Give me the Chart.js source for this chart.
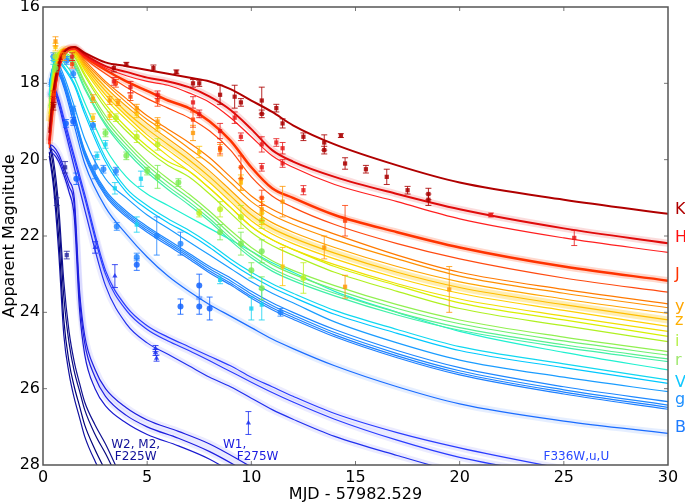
<!DOCTYPE html>
<html lang="en">
<head>
<meta charset="UTF-8">
<title>Kilonova light curves</title>
<script src="https://cdn.jsdelivr.net/npm/chart.js"></script>
<style>
  body { margin: 0; background: #fff; }
  #wrap { width: 685px; height: 504px; }
</style>
</head>
<body>
<div id="wrap"><canvas id="lc" width="685" height="504"></canvas></div>
<script>
// model grid (days since merger)
const days   = [0.3, 0.5, 0.75, 1, 1.5, 2, 3, 4, 5, 6, 7, 8, 9, 10, 11, 12, 14, 17, 20, 25, 30];
const daysUV = [0.3, 0.5, 0.75, 1, 1.25, 1.5, 1.75, 2, 2.5, 3, 4, 5, 6.5, 8, 10];

// model magnitudes, one array per filter curve
const magK  = [19.3, 18.2, 17.5, 17.2, 17.05, 17.2, 17.45, 17.55, 17.65, 17.75, 17.85, 17.95, 18.15, 18.45, 18.75, 19.1, 19.6, 20.15, 20.6, 21.05, 21.42];
const magH1 = [19.5, 18.4, 17.6, 17.2, 17.05, 17.25, 17.55, 17.7, 17.85, 17.95, 18.1, 18.35, 18.7, 19.2, 19.75, 20.05, 20.45, 20.9, 21.3, 21.8, 22.19];
const magH2 = [19.6, 18.5, 17.7, 17.3, 17.1, 17.3, 17.6, 17.8, 17.95, 18.05, 18.25, 18.5, 18.9, 19.4, 19.9, 20.2, 20.65, 21.1, 21.55, 22.05, 22.43];
const magJ1 = [19.6, 18.5, 17.5, 17.15, 17.08, 17.3, 17.65, 17.95, 18.2, 18.45, 18.65, 19.0, 19.5, 20.2, 20.75, 21.0, 21.45, 21.9, 22.3, 22.8, 23.17];
const magJ2 = [19.7, 18.6, 17.6, 17.2, 17.1, 17.35, 17.75, 18.1, 18.4, 18.65, 18.9, 19.25, 19.75, 20.45, 20.95, 21.25, 21.7, 22.2, 22.6, 23.1, 23.47];
const magY1 = [19.2, 18.2, 17.4, 17.1, 17.1, 17.4, 17.95, 18.4, 18.85, 19.2, 19.55, 19.95, 20.45, 20.95, 21.3, 21.55, 21.95, 22.5, 22.95, 23.4, 23.78];
const magY2 = [19.2, 18.2, 17.4, 17.12, 17.12, 17.45, 18.0, 18.5, 18.95, 19.3, 19.7, 20.1, 20.6, 21.1, 21.45, 21.7, 22.1, 22.6, 23.05, 23.5, 23.88];
const magY3 = [19.1, 18.1, 17.35, 17.12, 17.15, 17.5, 18.1, 18.6, 19.05, 19.45, 19.85, 20.3, 20.8, 21.3, 21.65, 21.9, 22.3, 22.8, 23.2, 23.65, 24.03];
const magZ1 = [19.0, 18.0, 17.3, 17.1, 17.15, 17.55, 18.2, 18.75, 19.2, 19.6, 20.0, 20.45, 20.95, 21.45, 21.8, 22.05, 22.45, 22.95, 23.35, 23.8, 24.2];
const magZ2 = [19.0, 18.0, 17.3, 17.1, 17.18, 17.6, 18.3, 18.85, 19.35, 19.75, 20.15, 20.6, 21.1, 21.6, 21.95, 22.2, 22.6, 23.1, 23.5, 23.95, 24.37];
const magZ3 = [18.9, 17.9, 17.25, 17.1, 17.2, 17.65, 18.4, 18.95, 19.45, 19.9, 20.3, 20.75, 21.25, 21.75, 22.1, 22.35, 22.75, 23.25, 23.65, 24.1, 24.5];
const magI1 = [18.8, 17.8, 17.2, 17.1, 17.25, 17.75, 18.55, 19.15, 19.65, 20.05, 20.3, 20.75, 21.25, 21.75, 22.1, 22.35, 22.8, 23.3, 23.75, 24.2, 24.63];
const magI2 = [18.8, 17.8, 17.2, 17.12, 17.3, 17.8, 18.65, 19.25, 19.75, 20.15, 20.45, 20.9, 21.4, 21.9, 22.25, 22.5, 22.95, 23.45, 23.9, 24.35, 24.77];
const magR1 = [18.6, 17.6, 17.2, 17.2, 17.4, 17.95, 18.85, 19.5, 20.05, 20.5, 20.9, 21.35, 21.85, 22.3, 22.65, 22.9, 23.3, 23.8, 24.2, 24.65, 25.03];
const magR2 = [18.6, 17.6, 17.2, 17.22, 17.45, 18.0, 18.95, 19.6, 20.15, 20.6, 21.0, 21.45, 21.95, 22.4, 22.75, 23.0, 23.4, 23.9, 24.3, 24.75, 25.12];
const magR3 = [18.6, 17.6, 17.22, 17.25, 17.5, 18.1, 19.05, 19.7, 20.25, 20.7, 21.1, 21.55, 22.05, 22.5, 22.85, 23.1, 23.5, 24.0, 24.4, 24.85, 25.22];
const magR4 = [18.65, 17.62, 17.25, 17.3, 17.55, 18.15, 19.1, 19.78, 20.33, 20.78, 21.18, 21.62, 22.12, 22.57, 22.92, 23.17, 23.57, 24.07, 24.47, 24.92, 25.29];
const magV0 = [18.3, 17.5, 17.35, 17.45, 17.85, 18.5, 19.7, 20.45, 20.9, 21.2, 21.5, 21.8, 22.1, 22.4, 22.7, 22.95, 23.45, 24.0, 24.5, 25.05, 25.51];
const magV1 = [18.3, 17.5, 17.4, 17.55, 18.0, 18.7, 19.95, 20.75, 21.2, 21.55, 21.85, 22.2, 22.6, 22.95, 23.25, 23.5, 23.95, 24.45, 24.9, 25.35, 25.77];
const magV2 = [18.35, 17.55, 17.45, 17.6, 18.05, 18.8, 20.05, 20.85, 21.3, 21.65, 21.95, 22.3, 22.7, 23.05, 23.35, 23.6, 24.05, 24.55, 25.0, 25.45, 25.86];
const magG0 = [18.05, 17.55, 17.55, 17.8, 18.6, 19.45, 20.5, 21.0, 21.45, 21.8, 22.15, 22.5, 22.85, 23.2, 23.5, 23.75, 24.25, 24.8, 25.25, 25.7, 26.08];
const magG1 = [18.0, 17.55, 17.6, 17.9, 18.8, 19.75, 20.8, 21.35, 21.75, 22.1, 22.45, 22.8, 23.1, 23.45, 23.75, 24.0, 24.45, 25.0, 25.45, 25.95, 26.34];
const magG2 = [18.0, 17.6, 17.65, 17.95, 18.85, 19.8, 20.85, 21.4, 21.8, 22.15, 22.5, 22.86, 23.17, 23.52, 23.82, 24.07, 24.53, 25.08, 25.53, 26.03, 26.43];
const magG3 = [18.05, 17.6, 17.7, 18.0, 18.9, 19.85, 20.9, 21.45, 21.85, 22.2, 22.55, 22.92, 23.23, 23.58, 23.88, 24.13, 24.59, 25.14, 25.59, 26.09, 26.49];
const magG4 = [18.05, 17.65, 17.75, 18.05, 18.95, 19.9, 20.95, 21.5, 21.9, 22.25, 22.6, 22.97, 23.28, 23.63, 23.93, 24.18, 24.64, 25.19, 25.64, 26.14, 26.54];
const magB  = [18.1, 17.7, 17.75, 18.1, 19.1, 20.1, 21.25, 21.95, 22.55, 23.05, 23.45, 23.8, 24.1, 24.4, 24.7, 24.95, 25.4, 25.95, 26.4, 26.85, 27.17];
const magU1 = [18.3, 18.1, 18.4, 18.9, 19.9, 20.9, 22.9, 23.85, 24.35, 24.65, 24.9, 25.15, 25.4, 25.7, 25.95, 26.2, 26.65, 27.15, 27.55, 28.1, 28.6];
const magU2 = [18.35, 18.15, 18.45, 19.0, 20.0, 21.0, 23.0, 23.95, 24.45, 24.75, 25.0, 25.27, 25.55, 25.83, 26.1, 26.35, 26.8, 27.35, 27.8, 28.3, 28.8];
const magU3 = [18.4, 18.2, 18.55, 19.1, 20.2, 21.3, 23.3, 24.3, 24.8, 25.1, 25.4, 25.7, 25.95, 26.25, 26.55, 26.8, 27.25, 27.75, 28.2, 28.7, 29.2];
const magW1a = [19.6, 19.65, 19.85, 20.2, 20.55, 21.0, 23.4, 24.6, 25.5, 26.0, 26.5, 26.82, 27.12, 27.45, 28.05];
const magW1b = [19.7, 19.75, 19.95, 20.3, 20.7, 21.2, 23.6, 24.8, 25.7, 26.2, 26.7, 27.0, 27.3, 27.65, 28.25];
const magW1c = [19.8, 19.85, 20.05, 20.4, 20.85, 21.5, 23.9, 25.1, 26.0, 26.45, 26.9, 27.2, 27.5, 27.85, 28.5];
const magW2a = [19.5, 20.0, 21.2, 23.2, 24.5, 25.3, 25.85, 26.35, 26.95, 27.45, 28.6, 29.5, 30.5, 31.5, 33.0];
const magW2b = [19.6, 20.2, 21.5, 23.6, 24.8, 25.55, 26.05, 26.55, 27.2, 27.7, 28.8, 29.7, 30.7, 31.7, 33.2];
const magW2c = [19.8, 20.5, 22.0, 24.2, 25.3, 25.95, 26.45, 26.95, 27.6, 28.15, 29.2, 30.0, 31.0, 32.0, 33.5];
const magW2d = [19.9, 20.7, 22.4, 24.6, 25.6, 26.25, 26.75, 27.25, 27.9, 28.4, 29.4, 30.2, 31.2, 32.2, 33.7];

// observations: [day, mag, error]
const obsK = [[0.5,18.6,0.1],[3.4,17.6,0.1],[4.0,17.5,0.05],[5.3,17.6,0.08],[6.4,17.7,0.05],[7.2,18.0,0.1],[7.5,18.0,0.08],[8.5,18.3,0.25],[9.2,18.35,0.3],[9.5,18.5,0.1],[10.5,18.45,0.35],[10.5,18.8,0.1],[11.2,18.65,0.1],[11.5,19.05,0.12],[12.5,19.4,0.1],[13.5,19.55,0.2],[13.5,19.75,0.1],[14.3,19.37,0.05],[14.5,20.1,0.15],[15.5,20.25,0.1],[16.5,20.45,0.2],[17.5,20.8,0.1],[18.5,20.9,0.15],[18.5,21.05,0.15]];
const obsH = [[0.5,18.45,0.1],[1.4,17.3,0.1],[3.4,17.95,0.1],[4.2,18.1,0.15],[5.5,18.3,0.1],[7.2,18.5,0.15],[7.5,18.8,0.1],[8.5,19.25,0.2],[9.2,18.9,0.15],[9.5,19.4,0.1],[10.5,19.6,0.2],[10.5,20.2,0.1],[11.2,19.55,0.1],[11.5,19.7,0.15],[11.5,20.1,0.1],[12.5,20.8,0.12],[21.5,21.45,0.05],[25.5,22.05,0.2]];
const obsJ = [[0.5,18.3,0.1],[1.4,17.5,0.1],[3.5,18.0,0.1],[4.2,18.35,0.1],[5.5,18.45,0.15],[7.2,18.95,0.2],[8.5,19.7,0.15],[9.5,20.2,0.3],[10.5,21.0,0.2],[14.5,21.6,0.4]];
const obsY = [[0.6,16.9,0.12],[1.0,17.3,0.1],[2.4,18.4,0.1],[3.2,18.45,0.1],[3.6,18.5,0.08],[4.5,18.65,0.1],[5.5,19.0,0.1],[7.2,19.3,0.2],[8.5,19.75,0.15],[9.5,20.5,0.3],[10.5,21.3,0.3],[11.5,21.1,0.4],[13.5,22.3,0.3],[14.5,23.33,0.3],[19.5,23.4,0.6]];
const obsZ = [[0.6,17.05,0.1],[2.4,18.9,0.1],[3.2,18.85,0.1],[4.5,18.8,0.1],[5.5,19.15,0.1],[7.5,19.8,0.15],[9.5,20.6,0.2],[10.5,21.4,0.3],[11.5,22.8,0.5]];
const obsI = [[0.6,17.3,0.1],[3.5,18.9,0.1],[4.5,19.4,0.15],[5.5,19.6,0.15],[7.5,21.4,0.1],[8.5,21.3,0.2],[9.5,21.5,0.3],[10.5,21.6,0.2],[12.5,23.1,0.4]];
const obsR = [[0.6,17.6,0.1],[3.0,19.3,0.1],[4.0,19.9,0.1],[5.0,20.3,0.1],[5.5,20.45,0.3],[6.5,20.6,0.1],[8.5,21.9,0.2],[9.5,22.2,0.3],[10.0,22.9,0.2],[10.5,22.4,0.3],[10.5,23.37,0.3]];
const obsV = [[0.5,17.4,0.1],[2.6,19.9,0.1],[3.0,19.6,0.1],[3.45,20.75,0.15],[4.5,21.7,0.2],[4.7,20.5,0.2],[8.5,23.15,0.1],[10.0,23.9,0.3],[10.5,23.8,0.4]];
const obsG = [[0.5,17.3,0.1],[1.14,17.4,0.1],[1.45,17.75,0.1],[1.45,18.7,0.1],[2.4,19.1,0.1],[2.5,20.2,0.3],[2.9,20.25,0.1],[3.5,20.3,0.1],[3.54,21.75,0.1],[4.5,22.55,0.1],[5.46,22.0,0.5],[6.6,22.2,0.3],[11.4,24.0,0.1]];
const obsB = [[1.1,19.05,0.1],[1.45,19.0,0.1],[1.6,20.5,0.15],[4.5,22.75,0.15],[6.6,23.85,0.2],[7.5,23.3,0.3],[7.5,23.85,0.2],[8.0,23.9,0.3]];
const obsU = [[2.5,22.3,0.15],[3.45,23.05,0.3],[5.4,24.95,0.08],[5.4,25.05,0.08],[5.45,25.2,0.08],[9.86,26.9,0.3]];
const obsW = [[0.66,21.1,0.1],[1.06,20.2,0.15],[1.14,22.5,0.1]];

// band labels on the right edge
const bandNames = ['K', 'H', 'J', 'y', 'z', 'i', 'r', 'V', 'g', 'B'];
const bandMags  = [21.32, 22.05, 23.02, 23.86, 24.23, 24.78, 25.28, 25.85, 26.3, 27.03];
const bandColors = ['#b00000', '#ff1010', '#ff3300', '#ffa500', '#ffb000', '#b8f050', '#a0e870', '#10c8ff', '#1e90ff', '#1e7cff'];

// UV filter notes inside the plot
const uvNotes = [
  { text: 'W2, M2,', day: 4.45, mag: 27.48, color: '#10109a' },
  { text: 'F225W', day: 4.45, mag: 27.8, color: '#10109a' },
  { text: 'W1,', day: 9.2, mag: 27.48, color: '#1a1ae0' },
  { text: 'F275W', day: 10.3, mag: 27.8, color: '#1a1ae0' },
  { text: 'F336W,u,U', day: 25.6, mag: 27.8, color: '#2a4aff' }
];

const models = [
  { t: days, m: magK,  c: '#b00000', w: 2 },
  { t: days, m: magH1, c: '#e00a0a', w: 2, band: 'rgba(230,20,20,0.15)' },
  { t: days, m: magH2, c: '#ff2020', w: 1.2 },
  { t: days, m: magJ1, c: '#ff3300', w: 2.5, band: 'rgba(255,60,0,0.2)' },
  { t: days, m: magJ2, c: '#ff4a10', w: 1.2 },
  { t: days, m: magY1, c: '#ff7a00', w: 1.2 },
  { t: days, m: magY2, c: '#ff9000', w: 1.2 },
  { t: days, m: magY3, c: '#ffa500', w: 1.2 },
  { t: days, m: magZ1, c: '#ffbf00', w: 1.2, band: 'rgba(255,200,0,0.3)' },
  { t: days, m: magZ2, c: '#ffd000', w: 1.2 },
  { t: days, m: magZ3, c: '#f0e000', w: 1.2 },
  { t: days, m: magI1, c: '#d8f000', w: 1.2 },
  { t: days, m: magI2, c: '#b0f020', w: 1.2 },
  { t: days, m: magR1, c: '#90f050', w: 1.2 },
  { t: days, m: magR2, c: '#70f070', w: 1.2 },
  { t: days, m: magR3, c: '#58f090', w: 1.2 },
  { t: days, m: magR4, c: '#40f0a8', w: 1.2 },
  { t: days, m: magV0, c: '#20f0d0', w: 1.2 },
  { t: days, m: magV1, c: '#10d8f0', w: 1.2 },
  { t: days, m: magV2, c: '#00c8ff', w: 1.2 },
  { t: days, m: magG0, c: '#1a9cff', w: 1.2 },
  { t: days, m: magG1, c: '#1e88ff', w: 1.2 },
  { t: days, m: magG2, c: '#1e88ff', w: 1.2 },
  { t: days, m: magG3, c: '#1e80ff', w: 1.2 },
  { t: days, m: magG4, c: '#1e80ff', w: 1.2 },
  { t: days, m: magB,  c: '#1a6cff', w: 1.2, band: 'rgba(80,140,255,0.15)' },
  { t: days, m: magU1, c: '#2a3cff', w: 1.2, band: 'rgba(120,120,255,0.15)' },
  { t: days, m: magU2, c: '#2a3cff', w: 1.2, band: 'rgba(120,120,255,0.15)' },
  { t: days, m: magU3, c: '#2030ee', w: 1.2, band: 'rgba(120,120,255,0.15)' },
  { t: daysUV, m: magW1a, c: '#1e1ee0', w: 1.2, band: 'rgba(120,120,255,0.15)' },
  { t: daysUV, m: magW1b, c: '#1e1ee0', w: 1.2, band: 'rgba(120,120,255,0.15)' },
  { t: daysUV, m: magW1c, c: '#1a1ad0', w: 1.2 },
  { t: daysUV, m: magW2a, c: '#101090', w: 1.2 },
  { t: daysUV, m: magW2b, c: '#0a0a80', w: 1.2 },
  { t: daysUV, m: magW2c, c: '#00007a', w: 1.2 },
  { t: daysUV, m: magW2d, c: '#1010a0', w: 1.2 }
];

const observations = [
  { obs: obsK, c: 'rgba(170,0,0,0.85)', s: 'rect' },
  { obs: obsH, c: 'rgba(230,20,20,0.8)', s: 'rect' },
  { obs: obsJ, c: 'rgba(255,60,0,0.8)', s: 'rect' },
  { obs: obsY, c: 'rgba(255,150,0,0.8)', s: 'rect' },
  { obs: obsZ, c: 'rgba(255,195,0,0.8)', s: 'rect' },
  { obs: obsI, c: 'rgba(190,240,30,0.8)', s: 'circle' },
  { obs: obsR, c: 'rgba(120,235,80,0.8)', s: 'circle' },
  { obs: obsV, c: 'rgba(20,210,240,0.8)', s: 'rect' },
  { obs: obsG, c: 'rgba(30,130,255,0.8)', s: 'circle' },
  { obs: obsB, c: 'rgba(20,100,255,0.85)', s: 'circle' },
  { obs: obsU, c: 'rgba(30,50,240,0.85)', s: 'triangle' },
  { obs: obsW, c: 'rgba(40,40,160,0.8)', s: 'rect' }
];

const toXY = (t, m) => t.map((d, i) => ({ x: d, y: m[i] }));

const datasets = [];
observations.forEach(o => {
  datasets.push({
    data: o.obs.map(p => ({ x: p[0], y: p[1], e: p[2] })),
    showLine: false,
    pointStyle: o.s,
    pointRadius: 3,
    pointBackgroundColor: o.c,
    pointBorderWidth: 0,
    errColor: o.c,
    order: 0
  });
});
models.forEach(md => {
  datasets.push({
    data: toXY(md.t, md.m),
    borderColor: md.c,
    borderWidth: md.w,
    pointRadius: 0,
    cubicInterpolationMode: 'monotone',
    clip: 0,
    order: 1
  });
  if (md.band) {
    datasets.push({
      data: toXY(md.t, md.m),
      borderColor: md.band,
      borderWidth: 7,
      pointRadius: 0,
      cubicInterpolationMode: 'monotone',
      clip: 0,
      order: 2
    });
  }
});

const errorBars = {
  id: 'errorBars',
  afterDatasetDraw(chart, args) {
    const ds = chart.data.datasets[args.index];
    if (!ds.errColor) return;
    const xs = chart.scales.x, ys = chart.scales.y, ctx = chart.ctx;
    ctx.save();
    ctx.strokeStyle = ds.errColor;
    ctx.lineWidth = 1;
    ds.data.forEach(p => {
      const px = xs.getPixelForValue(p.x);
      const y1 = ys.getPixelForValue(p.y - p.e);
      const y2 = ys.getPixelForValue(p.y + p.e);
      ctx.beginPath();
      ctx.moveTo(px, y1); ctx.lineTo(px, y2);
      ctx.moveTo(px - 3, y1); ctx.lineTo(px + 3, y1);
      ctx.moveTo(px - 3, y2); ctx.lineTo(px + 3, y2);
      ctx.stroke();
    });
    ctx.restore();
  }
};

const frame = {
  id: 'frame',
  afterDraw(chart) {
    const { ctx, chartArea: a, scales: { x, y } } = chart;
    ctx.save();
    ctx.strokeStyle = '#777';
    ctx.lineWidth = 1;
    ctx.beginPath();
    for (let d = 5; d < 30; d += 5) {
      const px = x.getPixelForValue(d);
      ctx.moveTo(px, a.bottom); ctx.lineTo(px, a.bottom - 4);
      ctx.moveTo(px, a.top); ctx.lineTo(px, a.top + 4);
    }
    for (let m = 18; m < 28; m += 2) {
      const py = y.getPixelForValue(m);
      ctx.moveTo(a.left, py); ctx.lineTo(a.left + 4, py);
      ctx.moveTo(a.right, py); ctx.lineTo(a.right - 4, py);
    }
    ctx.stroke();
    ctx.strokeStyle = '#555';
    ctx.lineWidth = 1.5;
    ctx.strokeRect(a.left, a.top, a.right - a.left, a.bottom - a.top);

    ctx.font = '16px "DejaVu Sans"';
    ctx.textBaseline = 'middle';
    ctx.textAlign = 'left';
    bandNames.forEach((n, i) => {
      ctx.fillStyle = bandColors[i];
      ctx.fillText(n, a.right + 7, y.getPixelForValue(bandMags[i]));
    });
    ctx.font = '12px "DejaVu Sans"';
    ctx.textAlign = 'center';
    uvNotes.forEach(n => {
      ctx.fillStyle = n.color;
      ctx.fillText(n.text, x.getPixelForValue(n.day), y.getPixelForValue(n.mag));
    });
    ctx.restore();
  }
};

const tickFont = { family: 'DejaVu Sans', size: 16 };

new Chart(document.getElementById('lc'), {
  type: 'line',
  data: { datasets },
  options: {
    responsive: false,
    animation: false,
    devicePixelRatio: 1,
    layout: { padding: { top: 7, right: 17, left: 0, bottom: 0 } },
    plugins: { legend: { display: false }, tooltip: { enabled: false } },
    scales: {
      x: {
        type: 'linear', min: 0, max: 30,
        grid: { display: false, drawTicks: false },
        border: { display: false },
        ticks: { stepSize: 5, color: '#000', font: tickFont, padding: 3, maxRotation: 0 },
        title: { display: true, text: 'MJD - 57982.529', color: '#000', font: tickFont, padding: 0 },
        afterFit(s) { s.height = 39; s.paddingLeft = 0; s.paddingRight = 0; }
      },
      y: {
        type: 'linear', min: 16, max: 28, reverse: true,
        grid: { display: false, drawTicks: false },
        border: { display: false },
        ticks: { stepSize: 2, color: '#000', font: tickFont, padding: 3 },
        title: { display: true, text: 'Apparent Magnitude', color: '#000', font: tickFont, padding: 0 },
        afterFit(s) { s.width = 43; s.paddingTop = 0; s.paddingBottom = 0; }
      }
    }
  },
  plugins: [errorBars, frame]
});
</script>
</body>
</html>
